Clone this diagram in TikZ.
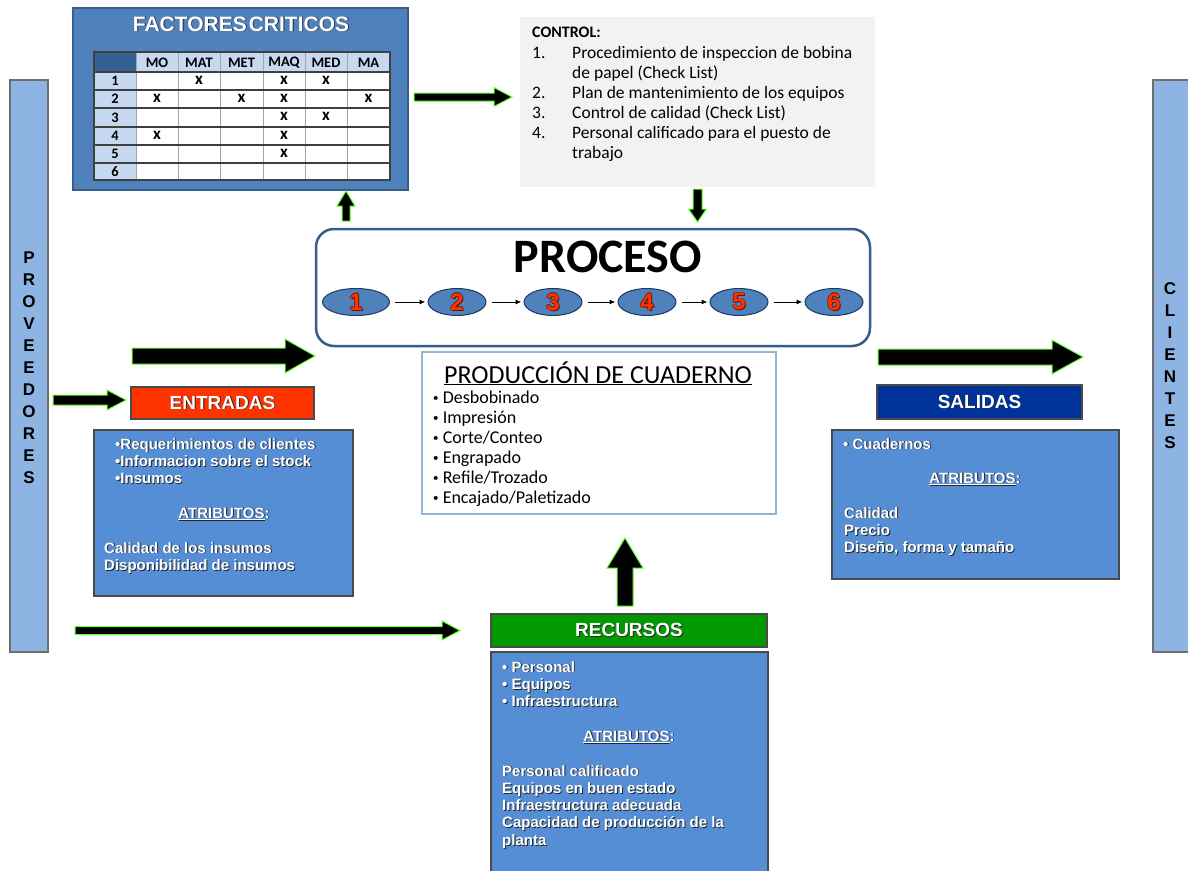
\documentclass[tikz,border=0pt]{standalone}
\usepackage{fontspec}
\setmainfont{Liberation Sans}
\newfontfamily\calibri{Carlito}
\usetikzlibrary{calc,shapes.geometric,arrows.meta}

\definecolor{boxblue}{HTML}{558ED5}
\definecolor{panelblue}{HTML}{4F81BD}
\definecolor{paneledge}{HTML}{385D8A}
\definecolor{barblue}{HTML}{8EB4E3}
\definecolor{headblue}{HTML}{C6D9F1}
\definecolor{cornerblue}{HTML}{366092}
\definecolor{ctrlgray}{HTML}{F2F2F2}
\definecolor{prodedge}{HTML}{95B3D7}
\definecolor{inred}{HTML}{FF3300}
\definecolor{outnavy}{HTML}{003399}
\definecolor{resgreen}{HTML}{009900}
\definecolor{glow}{HTML}{66FF33}
\definecolor{edgegray}{HTML}{4A4A4A}
\definecolor{txtshadow}{HTML}{262626}
\definecolor{numred}{HTML}{FF3300}
\definecolor{numedge}{HTML}{6B1500}
\definecolor{ellipseedge}{HTML}{1F3A60}

% white lettering with a dark drop shadow
\newcommand\shd[1]{\makebox[0pt][l]{\kern0.9pt\raisebox{-0.9pt}{\color{txtshadow}#1}}#1}
% red step numbers with a dark rim
\newcommand\rednum[1]{%
  \makebox[0pt][l]{\kern1pt\raisebox{-1pt}{\color{numedge}#1}}%
  \makebox[0pt][l]{\kern-0.6pt{\color{numedge}#1}}%
  \makebox[0pt][l]{\kern0.6pt{\color{numedge}#1}}%
  \makebox[0pt][l]{\raisebox{0.6pt}{\color{numedge}#1}}%
  \makebox[0pt][l]{\raisebox{-0.6pt}{\color{numedge}#1}}%
  {\color{numred}#1}}
\newcommand\rows[1]{\begin{tabular}[t]{@{}l@{}}#1\end{tabular}}
% small list bullet
\newcommand\sbul{\raisebox{1.5pt}{\fontsize{11}{11}\selectfont•}\ }

% block arrows: horizontal (tip on the right) and vertical (tip at y2)
\newcommand\harrow[6]{% x1, x2, y, half shaft, half head, head length
  \filldraw[blockarrow] (#1,{#3-#4}) -- ({#2-#6},{#3-#4}) -- ({#2-#6},{#3-#5})
    -- (#2,#3) -- ({#2-#6},{#3+#5}) -- ({#2-#6},{#3+#4}) -- (#1,{#3+#4}) -- cycle;}
\newcommand\varrow[6]{% x, y1, y2, half shaft, half head, signed head length
  \filldraw[blockarrow] ({#1-#4},#2) -- ({#1-#4},{#3+#6}) -- ({#1-#5},{#3+#6})
    -- (#1,#3) -- ({#1+#5},{#3+#6}) -- ({#1+#4},{#3+#6}) -- ({#1+#4},#2) -- cycle;}

\begin{document}
\begin{tikzpicture}[x=1pt,y=-1pt,
  blockarrow/.style={fill=black, draw=glow, line width=1pt, line join=miter},
  sidebar/.style={draw=edgegray!80, fill=barblue, line width=1.2pt, inner sep=0pt},
  barletters/.style={font=\fontsize{17}{22}\selectfont\bfseries, align=center, inner sep=0pt},
  bluebox/.style={draw=edgegray, fill=boxblue, line width=1.2pt, inner sep=0pt},
  labelbox/.style={draw=edgegray, line width=1.2pt, inner sep=0pt, text=white,
    font=\fontsize{19}{22}\selectfont\bfseries},
  wtext/.style={text=white, inner sep=0pt, anchor=base west,
    font=\fontsize{15}{17.3}\selectfont\bfseries},
  wtitle/.style={text=white, inner sep=0pt, anchor=base,
    font=\fontsize{15}{17.3}\selectfont\bfseries},
  ctext/.style={inner sep=0pt, anchor=base west, font=\calibri\fontsize{17.5}{20}\selectfont},
  thead/.style={inner sep=0pt, font=\calibri\fontsize{14.5}{15}\selectfont\bfseries},
  tmark/.style={inner sep=0pt, font=\calibri\fontsize{17}{17}\selectfont\bfseries},
  stepnode/.style={ellipse, draw=ellipseedge, fill=panelblue, line width=1pt,
    minimum width=58, minimum height=27, inner sep=0pt,
    font=\fontsize{24}{26}\selectfont\bfseries},
  steparrow/.style={-{Latex[length=6pt,width=5pt]}, line width=1pt}
]
\useasboundingbox (0,0) rectangle (1188,870);
\clip (0,0) rectangle (1188,870);
\fill[white] (0,0) rectangle (1188,870);

% ---- side bars -------------------------------------------------------
\node[sidebar, minimum width=38, minimum height=572] (prov) at (29,366) {};
\node[barletters] (provtxt) at (29,368) {P\\R\\O\\V\\E\\E\\D\\O\\R\\E\\S};
\node[sidebar, minimum width=36, minimum height=572] (cli) at (1171,366) {};
\node[barletters] (clitxt) at (1170,366) {C\\L\\I\\E\\N\\T\\E\\S};

% ---- critical factors panel -------------------------------------------
\node[draw=paneledge, fill=panelblue, line width=1.5pt, inner sep=0pt,
  minimum width=335, minimum height=182] (fact) at (240.5,99) {};
\node[text=white, inner sep=0pt, anchor=base, font=\fontsize{21}{24}\selectfont\bfseries]
  (facttitle) at (241,31) {\shd{FACTORES\kern2pt CRITICOS}};
% table cells
\fill[white] (94,52) rectangle (390,180);
\fill[headblue] (136,52) rectangle (390,72);
\fill[headblue] (94,72) rectangle (136,180);
\fill[cornerblue] (94,52) rectangle (136,72);
\foreach \xx in {136,178,220,263,305,347}
  \draw[gray!70, line width=1pt] (\xx,52) -- (\xx,180);
\foreach \yy in {72,90,108,127,145,163}
  \draw[black!75, line width=1.3pt] (94,\yy) -- (390,\yy);
\draw[black!75, line width=1.4pt] (94,52) rectangle (390,180);
\foreach \xx/\t in {157/MO,199/MAT,241.5/MET,284/MAQ,326/MED,368.5/MA}
  \node[thead] (h\t) at (\xx,62.5) {\t};
\foreach \i/\yy in {1/81,2/99,3/117.5,4/136,5/154,6/171.5}
  \node[thead] (r\i) at (115,\yy) {\i};
\foreach \xx/\yy [count=\k] in {199/81,284/81,326/81,157/99,241.5/99,284/99,368.5/99,
    284/117.5,326/117.5,157/136,284/136,284/154}
  \node[tmark] (x\k) at (\xx,\yy-1) {x};

% ---- control panel -----------------------------------------------------
\node[fill=ctrlgray, inner sep=0pt, minimum width=355, minimum height=170] (ctrl) at (697.5,102) {};
\node[ctext, font=\calibri\fontsize{16}{20}\selectfont\bfseries] (ctrltitle) at (532,37) {CONTROL:};
\node[ctext] (ctrlnum) at (532,58) {\rows{1.\\ \\2.\\3.\\4.}};
\node[ctext] (ctrllist) at (572,58) {\rows{Procedimiento de inspeccion de bobina\\
  de papel (Check List)\\Plan de mantenimiento de los equipos\\
  Control de calidad (Check List)\\Personal calificado para el puesto de\\trabajo}};

% ---- process box --------------------------------------------------------
\node[draw=paneledge, fill=white, line width=2.5pt, rounded corners=18pt, inner sep=0pt,
  minimum width=554, minimum height=117] (proc) at (593,287.5) {};
\node[inner sep=0pt, anchor=base, font=\calibri\fontsize{48}{50}\selectfont\bfseries]
  (proctitle) at (608,272) {PROCESO};
\node[stepnode, minimum width=67] (e1) at (356,302) {\rednum{1}};
\node[stepnode] (e2) at (457,302) {\rednum{2}};
\node[stepnode] (e3) at (553,302) {\rednum{3}};
\node[stepnode] (e4) at (647,302) {\rednum{4}};
\node[stepnode] (e5) at (739,302) {\rednum{5}};
\node[stepnode] (e6) at (834,302) {\rednum{6}};
\foreach \a/\b in {e1/e2,e2/e3,e3/e4,e4/e5,e5/e6}
  \draw[steparrow] ([xshift=5pt]\a.east) -- ([xshift=-2pt]\b.west);

% ---- notebook production box ------------------------------------------
\node[draw=prodedge, fill=white, line width=1.2pt, inner sep=0pt,
  minimum width=354, minimum height=162] (prod) at (599,433) {};
\node[inner sep=0pt, anchor=base, font=\calibri\fontsize{26}{28}\selectfont]
  (prodtitle) at (598,383) {\underline{PRODUCCIÓN DE CUADERNO}};
\node[ctext, font=\calibri\fontsize{18}{20}\selectfont] (prodlist) at (433,403)
  {\rows{\sbul Desbobinado\\\sbul Impresión\\\sbul Corte/Conteo\\\sbul Engrapado\\
   \sbul Refile/Trozado\\\sbul Encajado/Paletizado}};

% ---- inputs -------------------------------------------------------------
\node[labelbox, fill=inred, minimum width=183, minimum height=32] (entr) at (222.5,403) {\shd{ENTRADAS}};
\node[bluebox, minimum width=259, minimum height=166] (entrbox) at (223.5,513) {};
\node[wtext] (entrlist) at (115,449)
  {\rows{\shd{•Requerimientos de clientes}\\\shd{•Informacion sobre el stock}\\\shd{•Insumos}}};
\node[wtitle] (entrattr) at (224,518) {\shd{\underline{ATRIBUTOS}:}};
\node[wtext] (entrattrlist) at (104,553)
  {\rows{\shd{Calidad de los insumos}\\\shd{Disponibilidad de insumos}}};

% ---- outputs ------------------------------------------------------------
\node[labelbox, fill=outnavy, minimum width=205, minimum height=34] (sal) at (979.5,402) {\shd{SALIDAS}};
\node[bluebox, minimum width=287, minimum height=149] (salbox) at (975.5,504.5) {};
\node[wtext] (sallist) at (843,449) {\shd{• Cuadernos}};
\node[wtitle] (salattr) at (975,483) {\shd{\underline{ATRIBUTOS}:}};
\node[wtext] (salattrlist) at (844,518)
  {\rows{\shd{Calidad}\\\shd{Precio}\\\shd{Diseño, forma y tamaño}}};

% ---- resources ----------------------------------------------------------
\node[labelbox, fill=resgreen, minimum width=276, minimum height=33] (rec) at (629,630.5) {\shd{RECURSOS}};
\node[bluebox, minimum width=277, minimum height=224] (recbox) at (629.5,764) {};
\node[wtext] (reclist) at (502,672)
  {\rows{\shd{• Personal}\\\shd{• Equipos}\\\shd{• Infraestructura}}};
\node[wtitle] (recattr) at (629,741) {\shd{\underline{ATRIBUTOS}:}};
\node[wtext] (recattrlist) at (502,776)
  {\rows{\shd{Personal calificado}\\\shd{Equipos en buen estado}\\\shd{Infraestructura adecuada}\\
   \shd{Capacidad de producción de la}\\\shd{planta}}};

% ---- block arrows -------------------------------------------------------
\harrow{414}{512}{97}{4}{9.5}{18}
\varrow{346}{221}{191}{4}{9}{15}
\varrow{697.5}{189}{222}{4.5}{9}{-13}
\harrow{132}{315}{356}{8}{17}{30}
\harrow{53}{126}{400}{5}{10}{19}
\harrow{75}{460}{630.5}{4}{9.5}{18}
\varrow{625}{606}{538}{8}{18}{30}
\harrow{878}{1083}{357}{8}{17}{31}
\end{tikzpicture}
\end{document}
